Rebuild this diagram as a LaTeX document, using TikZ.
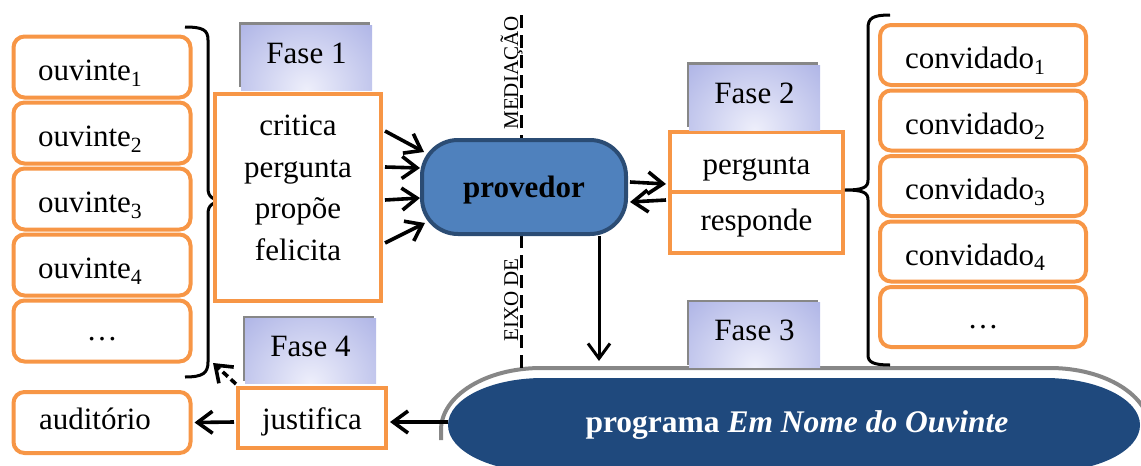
\documentclass[tikz,border=0pt]{standalone}
\usepackage{fontspec}
\setmainfont{Liberation Serif}
\usetikzlibrary{arrows.meta,calc}
\definecolor{orng}{HTML}{F79646}
\definecolor{provfill}{HTML}{4F81BD}
\definecolor{provline}{HTML}{2B4C74}
\definecolor{progblue}{HTML}{1F497D}
\definecolor{faseout}{RGB}{150,158,222}
\definecolor{fasein}{RGB}{238,239,251}
\definecolor{shad}{RGB}{135,135,135}
\tikzset{
  bl/.style={text height=#1, text depth=0pt},
  obox/.style={draw=orng, line width=4pt, inner sep=0pt, fill=white, font=\fontsize{31}{37}\selectfont},
  ouv/.style={obox, rounded corners=11pt, minimum width=177pt, minimum height=61pt, text width=128pt, align=left, bl=27pt},
  conv/.style={obox, rounded corners=11pt, minimum width=206pt, minimum height=60pt, text width=156pt, align=left, bl=27pt},
  fase/.style={inner sep=0pt, minimum width=131pt, minimum height=65pt, fill=faseout, font=\fontsize{31}{37}\selectfont, bl=11pt,
    path picture={\shade[inner color=fasein, outer color=faseout] (path picture bounding box.south) ellipse [x radius=131pt, y radius=130pt];}},
  prov/.style={rectangle, rounded corners=36pt, draw=provline, line width=4pt, fill=provfill, minimum width=204pt, minimum height=94pt, inner sep=0pt, font=\bfseries\fontsize{31}{36}\selectfont, bl=20pt},
  lbl/.style={rotate=90, font=\fontsize{21}{24}\selectfont, inner sep=0pt, anchor=base},
  arr/.style={line width=3.6pt, -{Straight Barb[length=15pt,width=22pt]}},
  brc/.style={line width=3pt},
  axisline/.style={line width=3pt, dash pattern=on 13pt off 7pt},
}
\newcommand\fasenode[3]{%
  \fill[shad] ($(#2)+(-68,-35.5)$) rectangle ($(#2)+(63.5,29.5)$);
  \node[fase] (#1) at (#2) {#3};}
\begin{document}
\begin{tikzpicture}[x=1pt,y=-1pt]
\useasboundingbox (0,0) rectangle (1141,466);
% programa shape
\draw[shad, line width=4pt] (441,440) -- (441,430) arc[start angle=180,end angle=270,x radius=100,y radius=62] -- (1050,368) arc[start angle=270,end angle=360,x radius=100,y radius=62] -- (1150,480);
\fill[progblue] (448,425) arc[start angle=180,end angle=270,x radius=95,y radius=47] -- (1045,378) arc[start angle=270,end angle=360,x radius=95,y radius=47] arc[start angle=0,end angle=90,x radius=95,y radius=47] -- (543,472) arc[start angle=90,end angle=180,x radius=95,y radius=47] -- cycle;
\node[font=\bfseries\fontsize{31.5}{36}\selectfont, text=white, inner sep=0pt, bl=14pt] (prog) at (797,425) {programa \textit{Em Nome do Ouvinte}};
\coordinate (progw) at (448,422);
\coordinate (progt) at (599,361);
% axis
\coordinate (axt) at (521,15);
\coordinate (axb) at (521,369);
\draw[axisline] (axt) -- (axb);
\node[lbl] (med) at (518,73) {MEDIAÇÃO};
\node[lbl] (eixo) at (518,300) {EIXO DE};
% provedor
\node[prov] (prov) at (524,187) {provedor};
% ouvintes
\node[ouv] (o1) at (102,67) {ouvinte\textsubscript{1}};
\node[ouv] (o2) at (102,133) {ouvinte\textsubscript{2}};
\node[ouv] (o3) at (102,199) {ouvinte\textsubscript{3}};
\node[ouv] (o4) at (102,265) {ouvinte\textsubscript{4}};
\node[ouv, align=center, bl=18pt] (o5) at (102,331) {…};
\node[ouv, bl=14pt, text width=126pt] (aud) at (102,422.5) {auditório};
% left brace
\coordinate (lbb) at (213,363);
\draw[brc] (185,27) .. controls (203,27) and (208,30) .. (208,40) -- (208,188) .. controls (208,197) and (212,201) .. (230,201) .. controls (212,201) and (208,205) .. (208,214) -- (208,362) .. controls (208,373) and (203,377) .. (185,377);
% fase 1
\node[obox, minimum width=166pt, minimum height=207pt] (f1t) at (298,197.5) {};
\node[font=\fontsize{31}{41.7}\selectfont, align=center, inner sep=0pt] (f1txt) at (298,188) {critica\\pergunta\\propõe\\felicita};
\fasenode{fase1}{306.5,57.5}{Fase 1}
% fase 2
\node[obox, minimum width=173pt, minimum height=60pt, bl=24pt] (perg) at (756.5,162) {pergunta};
\node[obox, minimum width=173pt, minimum height=61pt, bl=15pt] (resp) at (756.5,222.5) {responde};
\fasenode{fase2}{754.5,97.5}{Fase 2}
% fase 3
\fasenode{fase3}{754.5,335}{Fase 3}
% fase 4
\node[obox, minimum width=148pt, minimum height=60pt, bl=22pt] (just) at (312,418) {justifica};
\fasenode{fase4}{310.5,351}{Fase 4}
% convidados
\node[conv] (c1) at (983,55) {convidado\textsubscript{1}};
\node[conv] (c2) at (983,120.5) {convidado\textsubscript{2}};
\node[conv] (c3) at (983,186) {convidado\textsubscript{3}};
\node[conv] (c4) at (983,251.5) {convidado\textsubscript{4}};
\node[conv, align=center, bl=22pt] (c5) at (983,317) {…};
% right brace
\draw[brc] (890,15) .. controls (873,15) and (868,18) .. (868,28) -- (868,180) .. controls (868,187) and (864,190) .. (845,190) .. controls (864,190) and (868,193) .. (868,200) -- (868,355) .. controls (868,362) and (873,365) .. (890,365);
% arrows
\draw[arr] ($(f1t.east)+(2,-66.5)$) -- ($(prov.west)+(4,-35)$);
\draw[arr] ($(f1t.east)+(2,-30.5)$) -- ($(prov.west)+(0,-19)$);
\draw[arr] ($(f1t.east)+(2,2.5)$) -- ($(prov.west)+(0,11)$);
\draw[arr] ($(f1t.east)+(2,45.5)$) -- ($(prov.west)+(5,36)$);
\draw[arr] ($(prov.east)+(2,-5)$) -- ($(perg.south west)+(-2,-10)$);
\draw[arr] ($(resp.north west)+(-2,10)$) -- ($(prov.east)+(2,15)$);
\draw[arr, line width=3pt] ($(prov.south)+(75,0)$) -- (progt);
\draw[arr] (progw) -- ($(just.east)+(2,4)$);
\draw[arr] ($(just.west)+(-2,4)$) -- ($(aud.east)+(2,0)$);
\draw[arr, dash pattern=on 7pt off 4pt] ($(just.north west)+(0,-2)$) -- (lbb);
\end{tikzpicture}
\end{document}
